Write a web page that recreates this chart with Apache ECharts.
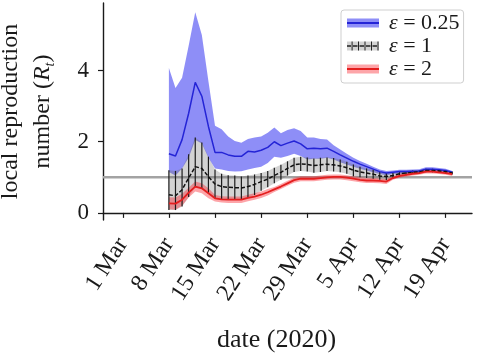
<!DOCTYPE html>
<html>
<head>
<meta charset="utf-8">
<script src="https://cdn.jsdelivr.net/npm/echarts@6/dist/echarts.min.js"></script>
<style>
    html, body { margin: 0; padding: 0; background: #fff; }
    #chart { width: 480px; height: 354px; }
</style>
</head>
<body>
<div id="chart"></div>
<script>
    // x axis: one category per day, 27 Feb .. 23 Apr 2020
    var firstDay = Date.UTC(2020, 1, 27);
    var dayCount = 57;
    var monthNames = ['Jan', 'Feb', 'Mar', 'Apr'];
    var days = [];
    for (var i = 0; i < dayCount; i++) {
        var d = new Date(firstDay + i * 86400000);
        days.push(d.getUTCDate() + ' ' + monthNames[d.getUTCMonth()]);
    }
    var tickLabels = ['1 Mar', '8 Mar', '15 Mar', '22 Mar', '29 Mar', '5 Apr', '12 Apr', '19 Apr'];
    var yTicks = [0, 2, 4];
    var dataStart = '8 Mar'; // the series below run daily from here to 20 Apr

    // eps = 0.25 (blue)
    var blueMid = [1.66, 1.60, 2.06, 2.80, 3.67, 3.28, 2.43, 1.70, 1.70, 1.63, 1.59, 1.59, 1.73, 1.71, 1.76, 1.84, 2.00, 1.89, 1.96, 2.02, 1.94, 1.80,
        1.82, 1.80, 1.82, 1.73, 1.63, 1.54, 1.45, 1.37, 1.30, 1.23, 1.16, 1.12, 1.14, 1.16, 1.16, 1.17, 1.18, 1.23, 1.23, 1.21, 1.19, 1.14];
    var blueHi = [4.07, 3.51, 3.80, 4.70, 5.64, 5.00, 3.70, 2.45, 2.35, 2.15, 2.02, 1.97, 2.08, 2.12, 2.15, 2.25, 2.40, 2.24, 2.33, 2.38, 2.30, 2.12,
        2.12, 2.08, 2.06, 1.90, 1.78, 1.66, 1.55, 1.46, 1.38, 1.30, 1.22, 1.18, 1.19, 1.21, 1.21, 1.22, 1.23, 1.28, 1.28, 1.26, 1.24, 1.18];
    var blueLo = [1.15, 1.05, 1.25, 1.55, 2.05, 1.95, 1.55, 1.25, 1.22, 1.18, 1.16, 1.17, 1.22, 1.26, 1.30, 1.40, 1.58, 1.55, 1.60, 1.66, 1.60, 1.50,
        1.52, 1.52, 1.55, 1.50, 1.42, 1.36, 1.30, 1.24, 1.19, 1.14, 1.09, 1.06, 1.09, 1.11, 1.11, 1.12, 1.13, 1.18, 1.18, 1.16, 1.14, 1.10];

    // eps = 1 (black, error bars)
    var blackMid = [0.51, 0.48, 0.65, 0.98, 1.30, 1.25, 1.02, 0.81, 0.74, 0.72, 0.71, 0.70, 0.74, 0.80, 0.88, 0.95, 1.05, 1.14, 1.25, 1.35, 1.38, 1.36,
        1.33, 1.35, 1.37, 1.35, 1.32, 1.27, 1.20, 1.15, 1.12, 1.09, 1.04, 1.02, 1.05, 1.10, 1.12, 1.14, 1.15, 1.19, 1.19, 1.18, 1.16, 1.12];
    var blackHi = [1.20, 1.18, 1.25, 1.65, 2.12, 1.98, 1.58, 1.22, 1.10, 1.06, 1.05, 1.02, 1.05, 1.08, 1.12, 1.18, 1.27, 1.35, 1.45, 1.55, 1.58, 1.56,
        1.53, 1.55, 1.56, 1.54, 1.50, 1.44, 1.36, 1.30, 1.25, 1.21, 1.15, 1.12, 1.13, 1.17, 1.18, 1.19, 1.20, 1.24, 1.24, 1.22, 1.20, 1.16];
    var blackLo = [0.08, 0.08, 0.18, 0.45, 0.72, 0.70, 0.55, 0.42, 0.38, 0.36, 0.36, 0.36, 0.42, 0.50, 0.62, 0.72, 0.83, 0.93, 1.05, 1.15, 1.18, 1.16,
        1.13, 1.15, 1.18, 1.16, 1.14, 1.10, 1.03, 1.00, 0.98, 0.96, 0.93, 0.92, 0.97, 1.03, 1.06, 1.09, 1.10, 1.14, 1.14, 1.14, 1.12, 1.08];

    // eps = 2 (red)
    var redMid = [0.27, 0.26, 0.37, 0.57, 0.74, 0.69, 0.55, 0.41, 0.38, 0.37, 0.37, 0.37, 0.42, 0.46, 0.51, 0.58, 0.66, 0.74, 0.83, 0.92, 0.96, 0.96,
        0.96, 0.98, 1.00, 1.01, 1.01, 0.99, 0.96, 0.93, 0.91, 0.91, 0.90, 0.88, 0.98, 1.04, 1.07, 1.10, 1.12, 1.16, 1.16, 1.14, 1.12, 1.09];
    var redHi = [0.44, 0.43, 0.54, 0.71, 0.88, 0.83, 0.69, 0.50, 0.47, 0.46, 0.46, 0.46, 0.51, 0.55, 0.60, 0.67, 0.73, 0.81, 0.90, 0.99, 1.03, 1.03,
        1.03, 1.05, 1.07, 1.08, 1.08, 1.06, 1.03, 1.00, 0.98, 0.98, 0.97, 0.95, 1.03, 1.09, 1.12, 1.15, 1.17, 1.21, 1.21, 1.19, 1.17, 1.14];
    var redLo = [0.10, 0.09, 0.20, 0.43, 0.60, 0.55, 0.41, 0.32, 0.29, 0.28, 0.28, 0.28, 0.33, 0.37, 0.42, 0.49, 0.59, 0.67, 0.76, 0.85, 0.89, 0.89,
        0.89, 0.91, 0.93, 0.94, 0.94, 0.92, 0.89, 0.86, 0.84, 0.84, 0.83, 0.81, 0.93, 0.99, 1.02, 1.05, 1.07, 1.11, 1.11, 1.09, 1.07, 1.04];

    var refLevel = 1;

    var FONT = 'Liberation Serif';
    var INK = '#1a1a1a';
    var BLUE = '#2424d6', BLUE_BAND = 'rgba(50,50,240,0.55)';
    var BLACK = '#111111', GREY_BAND = 'rgba(110,110,110,0.3)';
    var RED = '#e41e1e', RED_BAND = 'rgba(250,40,50,0.42)';

    // put a series (starting at dataStart) onto the full day axis
    var offset = days.indexOf(dataStart);
    function pad(arr) {
        var out = [];
        for (var i = 0; i < days.length; i++) {
            var k = i - offset;
            out.push(k >= 0 && k < arr.length ? arr[k] : null);
        }
        return out;
    }
    function diff(hi, lo) {
        return hi.map(function (v, i) { return +(v - lo[i]).toFixed(3); });
    }

    function bandSeries(stack, lo, hi, color) {
        return [
            {
                type: 'line', stack: stack, data: pad(lo), symbol: 'none', silent: true, z: 2,
                lineStyle: { opacity: 0 }
            },
            {
                type: 'line', stack: stack, data: pad(diff(hi, lo)), symbol: 'none', silent: true, z: 2,
                lineStyle: { opacity: 0 }, areaStyle: { color: color, opacity: 1 }
            }
        ];
    }

    var errorBars = blackLo.map(function (lo, i) {
        return [days[offset + i], lo, blackHi[i]];
    });

    var LEG_SIZE = 22;
    var epsRich = function (color) {
        return {
            e: { fontFamily: FONT, fontSize: LEG_SIZE, fontStyle: 'italic', color: color, padding: [0, 0, 0, 5] },
            t: { fontFamily: FONT, fontSize: LEG_SIZE, color: color }
        };
    };
    function epsLabel(name) {
        return '{e|ε}{t| = ' + name.split('= ')[1] + '}';
    }

    var names = ['ε = 0.25', 'ε = 1', 'ε = 2'];
    // icons for the line part of the legend (corner dots keep the 32x8 box)
    var box = 'M0,0h0.05v0.05zM32,8h-0.05v-0.05z';
    var lineIcon = 'path://' + box + 'M0,3.2h32v1.6h-32z';
    var barIcon = 'path://' + box +
        'M0,3.3h4v1.4h-4zM6,3.3h4.5v1.4h-4.5zM12.5,3.3h4.5v1.4h-4.5zM19,3.3h4.5v1.4h-4.5zM25.5,3.3h4.5v1.4h-4.5z' +
        'M4.6,0h1v8h-1zM11,0h1v8h-1zM17.5,0h1v8h-1zM24,0h1v8h-1zM30.5,0h1v8h-1z';

    var legendBase = {
        left: 341, top: 10, orient: 'vertical',
        padding: [2, 4, 3, 6], itemGap: 1,
        itemWidth: 32, itemHeight: 9,
        symbolKeepAspect: false,
        selectedMode: false,
        formatter: epsLabel
    };

    var chart = echarts.init(document.getElementById('chart'), null, { renderer: 'canvas' });

    var option = {
        animation: false,
        backgroundColor: '#fff',
        grid: { left: 103, right: 8, top: 3, bottom: 134, containLabel: false, outerBoundsMode: 'none' },
        legend: [
            Object.assign({}, legendBase, {
                z: 4,
                borderColor: '#cfcfcf', borderWidth: 1, borderRadius: 3,
                data: [
                    { name: names[0], icon: 'rect', itemStyle: { color: BLUE_BAND } },
                    { name: names[1], icon: 'rect', itemStyle: { color: GREY_BAND } },
                    { name: names[2], icon: 'rect', itemStyle: { color: RED_BAND } }
                ],
                textStyle: { fontFamily: FONT, fontSize: LEG_SIZE, color: INK, lineHeight: 22, rich: epsRich(INK) }
            }),
            Object.assign({}, legendBase, {
                z: 5,
                borderWidth: 0,
                data: [
                    { name: names[0], icon: lineIcon, itemStyle: { color: BLUE } },
                    { name: names[1], icon: barIcon, itemStyle: { color: '#222' } },
                    { name: names[2], icon: lineIcon, itemStyle: { color: RED } }
                ],
                textStyle: { fontFamily: FONT, fontSize: LEG_SIZE, color: 'rgba(0,0,0,0)', lineHeight: 22, rich: epsRich('rgba(0,0,0,0)') }
            })
        ],
        xAxis: {
            type: 'category',
            data: days,
            boundaryGap: false,
            name: 'date (2020)',
            nameLocation: 'middle',
            nameGap: 107,
            nameTextStyle: { fontFamily: FONT, fontSize: 26, color: INK, padding: [0, 22, 0, 0] },
            axisLine: { lineStyle: { color: INK, width: 1.4 } },
            axisTick: {
                length: 5,
                lineStyle: { color: INK, width: 1.2 },
                interval: function (idx, val) { return tickLabels.indexOf(val) >= 0; }
            },
            axisLabel: {
                rotate: 57,
                margin: 20,
                padding: [24, 0, 0, 0],
                hideOverlap: false,
                fontFamily: FONT, fontSize: 24, color: INK,
                interval: function (idx, val) { return tickLabels.indexOf(val) >= 0; }
            },
            splitLine: { show: false }
        },
        yAxis: {
            type: 'value',
            min: -0.2,
            max: 5.9,
            name: 'local reproduction\n{n|number (}{i|R}{s|t}{n|)}',
            nameLocation: 'middle',
            nameGap: 44,
            nameTextStyle: {
                fontFamily: FONT, fontSize: 24, color: INK, lineHeight: 32,
                rich: {
                    n: { fontFamily: FONT, fontSize: 24, color: INK, lineHeight: 32 },
                    i: { fontFamily: FONT, fontSize: 24, fontStyle: 'italic', color: INK, lineHeight: 32 },
                    s: { fontFamily: FONT, fontSize: 14, fontStyle: 'italic', color: INK, lineHeight: 14, verticalAlign: 'bottom', padding: [0, 0, 2, 0] }
                }
            },
            axisLine: { show: true, lineStyle: { color: INK, width: 1.4 } },
            axisTick: { show: true, length: 5, customValues: yTicks, lineStyle: { color: INK, width: 1.2 } },
            axisLabel: { customValues: yTicks, margin: 14, fontFamily: FONT, fontSize: 23, color: INK },
            splitLine: { show: false }
        },
        series: [].concat(
            [{
                // reference line at R = 1
                type: 'line', data: days.map(function () { return refLevel; }), symbol: 'none', silent: true, z: 1,
                lineStyle: { color: '#a3a3a3', width: 2.6 }
            }],
            bandSeries('blue', blueLo, blueHi, BLUE_BAND),
            [{
                name: names[0], type: 'line', data: pad(blueMid), symbol: 'none', z: 3,
                itemStyle: { color: BLUE }, lineStyle: { color: BLUE, width: 1.5 }
            }],
            bandSeries('black', blackLo, blackHi, GREY_BAND),
            [{
                type: 'custom', data: errorBars, z: 3, silent: true,
                encode: { x: 0, y: [1, 2] },
                renderItem: function (params, api) {
                    var a = api.coord([api.value(0), api.value(1)]);
                    var b = api.coord([api.value(0), api.value(2)]);
                    return {
                        type: 'line',
                        shape: { x1: a[0], y1: a[1], x2: b[0], y2: b[1] },
                        style: { stroke: '#1c1c1c', lineWidth: 1.2 }
                    };
                }
            },
            {
                name: names[1], type: 'line', data: pad(blackMid), symbol: 'none', z: 3,
                itemStyle: { color: BLACK }, lineStyle: { color: BLACK, width: 1.5, type: [4, 2] }
            }],
            bandSeries('red', redLo, redHi, RED_BAND),
            [{
                name: names[2], type: 'line', data: pad(redMid), symbol: 'none', z: 3,
                itemStyle: { color: RED }, lineStyle: { color: RED, width: 1.8 }
            }]
        )
    };

    chart.setOption(option);
</script>
</body>
</html>
